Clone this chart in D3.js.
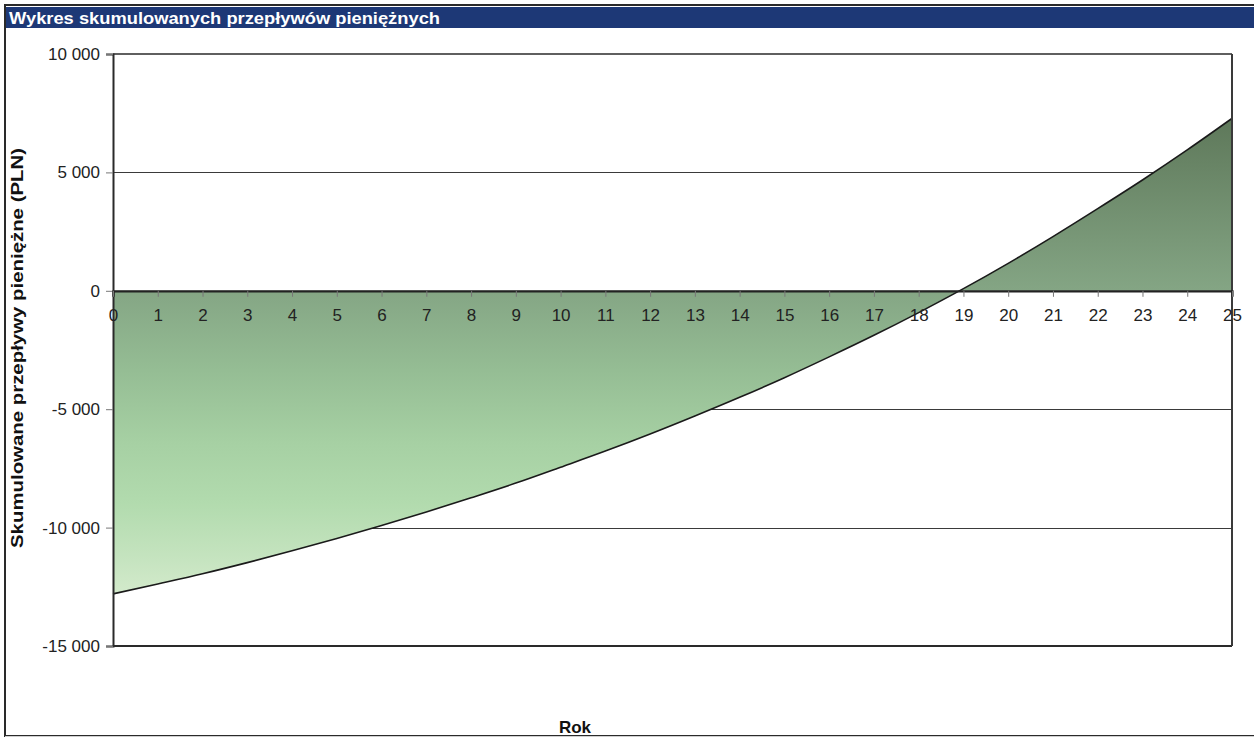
<!DOCTYPE html>
<html lang="pl">
<head>
<meta charset="utf-8">
<script src="https://cdn.jsdelivr.net/npm/d3@7"></script>
<style>
  html, body { margin: 0; padding: 0; background: #ffffff; }
  svg { display: block; font-family: "Liberation Sans", Arial, sans-serif; }
</style>
</head>
<body>
<svg id="chart" width="1254" height="738"></svg>
<script>
// Lata analizy i skumulowane przepływy pieniężne (PLN)
const years = [0, 1, 2, 3, 4, 5, 6, 7, 8, 9, 10, 11, 12, 13, 14, 15, 16, 17, 18, 19, 20, 21, 22, 23, 24, 25];
const cumulativeCash = [-12800, -12380, -11950, -11480, -10980, -10460, -9910, -9340, -8740, -8120,
  -7450, -6770, -6050, -5290, -4500, -3670, -2790, -1880, -920, 90,
  1160, 2290, 3470, 4680, 5950, 7280];
const yTicks = [-15000, -10000, -5000, 0, 5000, 10000];
const xTicks = years;

const title = "Wykres skumulowanych przepływów pieniężnych";
const yTitle = "Skumulowane przepływy pieniężne (PLN)";
const xTitle = "Rok";

const data = years.map((y, i) => ({ year: y, value: cumulativeCash[i] }));

const svg = d3.select("#chart");
const plot = { left: 113, right: 1232, top: 54, bottom: 646 };

const x = d3.scaleLinear().domain([0, 25]).range([plot.left, plot.right]);
const y = d3.scaleLinear().domain([-15000, 10000]).range([plot.bottom, plot.top]);

const fmt = v => d3.format(",")(v).replace(/,/g, " ").replace("−", "-");

// Ramka i pasek tytułu
svg.append("rect").attr("x", 5).attr("y", 5).attr("width", 1260).attr("height", 731)
  .attr("fill", "#fff").attr("stroke", "#2a2a2a").attr("stroke-width", 2);
svg.append("line").attr("x1", 5).attr("x2", 1254).attr("y1", 736.5).attr("y2", 736.5)
  .attr("stroke", "#cfcfcf").attr("stroke-width", 1);
svg.append("rect").attr("x", 6).attr("y", 7).attr("width", 1248).attr("height", 21)
  .attr("fill", "#1d3876");
svg.append("text").attr("x", 9).attr("y", 23.5)
  .attr("fill", "#ffffff").attr("font-weight", "bold").attr("font-size", 17)
  .attr("textLength", 431).attr("lengthAdjust", "spacingAndGlyphs")
  .text(title);

// Linie siatki poziomej
svg.append("g").selectAll("line")
  .data(yTicks.filter(v => v !== 0 && v !== 10000 && v !== -15000))
  .join("line")
  .attr("x1", plot.left).attr("x2", plot.right)
  .attr("y1", d => Math.round(y(d)) + 0.5).attr("y2", d => Math.round(y(d)) + 0.5)
  .attr("stroke", "#3a3a3a").attr("stroke-width", 1);

// Gradient wypełnienia obszaru
const defs = svg.append("defs");
const ext = d3.extent(cumulativeCash);
const grad = defs.append("linearGradient").attr("id", "cashFill")
  .attr("gradientUnits", "userSpaceOnUse")
  .attr("x1", 0).attr("x2", 0)
  .attr("y1", y(ext[1])).attr("y2", y(ext[0]));
[
  [0, "#5e785a"], [0.36, "#84a584"], [0.53, "#95bd94"], [0.68, "#a6d0a3"],
  [0.81, "#b2dbae"], [0.93, "#c6e4c0"], [1, "#d3eacb"]
].forEach(([o, c]) => grad.append("stop").attr("offset", o).attr("stop-color", c));

const area = d3.area()
  .x(d => x(d.year))
  .y0(y(0))
  .y1(d => y(d.value))
  .curve(d3.curveMonotoneX);
svg.append("path").datum(data).attr("d", area).attr("fill", "url(#cashFill)");

const line = d3.line()
  .x(d => x(d.year))
  .y(d => y(d.value))
  .curve(d3.curveMonotoneX);
svg.append("path").datum(data).attr("d", line)
  .attr("fill", "none").attr("stroke", "#1a1a1a").attr("stroke-width", 1.6);

// Obramowanie obszaru wykresu
svg.append("line").attr("x1", plot.left).attr("x2", plot.right)
  .attr("y1", y(10000)).attr("y2", y(10000)).attr("stroke", "#2a2a2a").attr("stroke-width", 1.5);
svg.append("line").attr("x1", plot.left).attr("x2", plot.right)
  .attr("y1", y(-15000)).attr("y2", y(-15000)).attr("stroke", "#2a2a2a").attr("stroke-width", 2);
svg.append("line").attr("x1", plot.right).attr("x2", plot.right)
  .attr("y1", plot.top).attr("y2", plot.bottom).attr("stroke", "#3a3a3a").attr("stroke-width", 2);

// Oś Y
const yAxis = svg.append("g").attr("transform", `translate(${plot.left},0)`)
  .call(d3.axisLeft(y).tickValues(yTicks).tickFormat(fmt).tickSize(7).tickPadding(6));
yAxis.select(".domain").attr("stroke", "#2a2a2a").attr("stroke-width", 2);
yAxis.selectAll(".tick line").attr("stroke", "#777");
yAxis.selectAll(".tick text").attr("font-size", 17).attr("fill", "#222")
  .attr("font-family", "Liberation Sans, Arial, sans-serif");

// Oś X na poziomie zera
const xAxis = svg.append("g").attr("transform", `translate(0,${y(0)})`)
  .call(d3.axisBottom(x).tickValues(xTicks).tickFormat(d3.format("d")).tickSize(6).tickPadding(12));
xAxis.select(".domain").attr("stroke", "#222").attr("stroke-width", 2.2);
xAxis.selectAll(".tick line").attr("stroke", "#777");
xAxis.selectAll(".tick text").attr("font-size", 17).attr("fill", "#222")
  .attr("font-family", "Liberation Sans, Arial, sans-serif");

// Tytuły osi
svg.append("text")
  .attr("transform", `translate(23,${(plot.top + plot.bottom) / 2 - 2}) rotate(-90)`)
  .attr("text-anchor", "middle").attr("font-weight", "bold").attr("font-size", 17)
  .attr("textLength", 400).attr("lengthAdjust", "spacingAndGlyphs")
  .attr("fill", "#111").text(yTitle);
svg.append("text").attr("x", 575).attr("y", 733)
  .attr("text-anchor", "middle").attr("font-weight", "bold").attr("font-size", 17)
  .attr("fill", "#111").text(xTitle);
</script>
</body>
</html>
